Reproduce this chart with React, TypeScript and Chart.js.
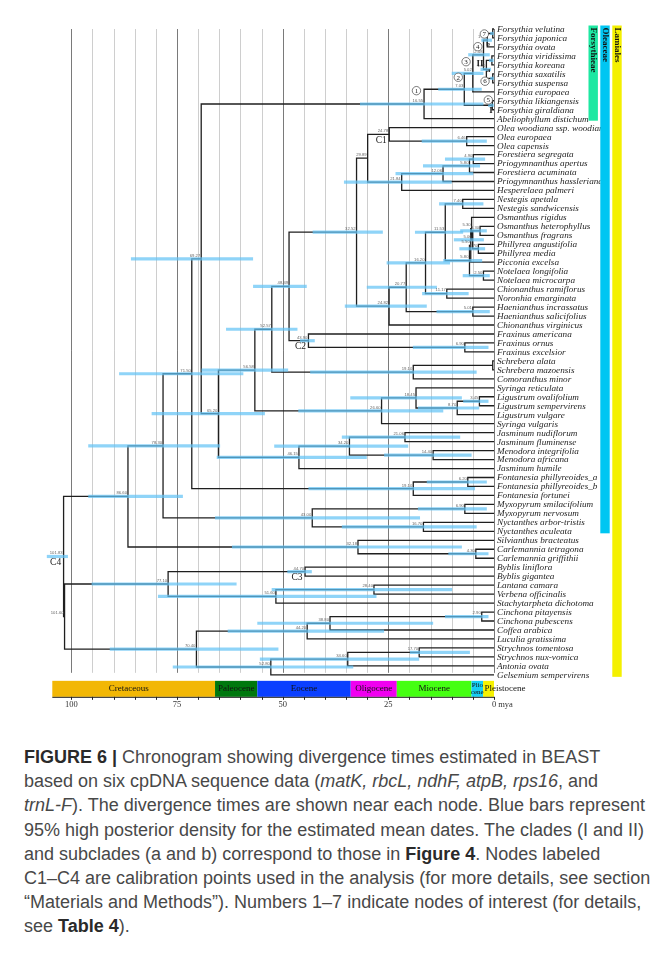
import React, { useEffect, useRef } from "react";
import { Chart, registerables } from "chart.js";
Chart.register(...registerables);

// ---------- DATA ----------
const tipNames = [
  "Forsythia velutina", "Forsythia japonica", "Forsythia ovata", "Forsythia viridissima", "Forsythia koreana",
  "Forsythia saxatilis", "Forsythia suspensa", "Forsythia europaea", "Forsythia likiangensis", "Forsythia giraldiana",
  "Abeliophyllum distichum", "Olea woodiana ssp. woodiana", "Olea europaea", "Olea capensis", "Forestiera segregata",
  "Priogymnanthus apertus", "Forestiera acuminata", "Priogymnanthus hassleriana", "Hesperelaea palmeri",
  "Nestegis apetala", "Nestegis sandwicensis", "Osmanthus rigidus", "Osmanthus heterophyllus", "Osmanthus fragrans",
  "Phillyrea angustifolia", "Phillyrea media", "Picconia excelsa", "Notelaea longifolia", "Notelaea microcarpa",
  "Chionanthus ramiflorus", "Noronhia emarginata", "Haenianthus incrassatus", "Haenianthus salicifolius",
  "Chionanthus virginicus", "Fraxinus americana", "Fraxinus ornus", "Fraxinus excelsior", "Schrebera alata",
  "Schrebera mazoensis", "Comoranthus minor", "Syringa reticulata", "Ligustrum ovalifolium", "Ligustrum sempervirens",
  "Ligustrum vulgare", "Syringa vulgaris", "Jasminum nudiflorum", "Jasminum fluminense", "Menodora integrifolia",
  "Menodora africana", "Jasminum humile", "Fontanesia phillyreoides_a", "Fontanesia phillyreoides_b",
  "Fontanesia fortunei", "Myxopyrum smilacifolium", "Myxopyrum nervosum", "Nyctanthes arbor-tristis",
  "Nyctanthes aculeata", "Silvianthus bracteatus", "Carlemannia tetragona", "Carlemannia griffithii",
  "Byblis liniflora", "Byblis gigantea", "Lantana camara", "Verbena officinalis", "Stachytarpheta dichotoma",
  "Cinchona pitayensis", "Cinchona pubescens", "Coffea arabica", "Luculia gratissima", "Strychnos tomentosa",
  "Strychnos nux-vomica", "Antonia ovata", "Gelsemium sempervirens",
];

const nodeIds = [
  "f7", "fb", "fvk", "f6", "fa", "fII", "f3", "f5", "f2", "f1",
  "oec", "c1", "fsp", "fpa", "fph", "fhe", "o29",
  "nes", "osm", "phi", "n4", "v", "w", "not", "q", "o115", "chn", "s", "hae", "t", "u", "o325",
  "fxo", "c2", "o485", "sch", "sco", "o526", "lov", "lig", "srl", "syr", "o566",
  "jnf", "men", "j342", "j461", "o652", "X", "fonab", "fon", "Y",
  "myx", "nyc", "myn", "Z", "car", "sil", "lam",
  "byb", "lv", "verb", "bv", "cin", "cc", "ccl", "str", "sa", "sag", "gen", "r2", "root",
];

const nodeKids: (number | string)[][] = [
  [0, 1], ["f7", 2], [3, 4], [5, 6], ["fvk", "f6"], ["fb", "fa"], ["fII", 7], [8, 9], ["f3", "f5"], ["f2", 10],
  [12, 13], [11, "oec"], [14, 15], ["fsp", 16], ["fpa", 17], ["fph", 18], ["c1", "fhe"],
  [19, 20], [22, 23], [24, 25], ["osm", "phi"], [21, "n4"], ["v", 26], [27, 28], ["w", "not"], ["nes", "q"],
  [29, 30], ["o115", "chn"], [31, 32], ["s", "hae"], ["t", 33], ["o29", "u"],
  [35, 36], [34, "fxo"], ["o325", "c2"], [37, 38], ["sch", 39], ["o485", "sco"], [41, 42], ["lov", 43],
  [40, "lig"], ["srl", 44], ["o526", "syr"],
  [45, 46], [47, 48], ["jnf", "men"], ["j342", 49], ["o566", "j461"], ["f1", "o652"], [50, 51], ["fonab", 52],
  ["X", "fon"],
  [53, 54], [55, 56], ["myx", "nyc"], ["Y", "myn"], [58, 59], [57, "car"], ["Z", "sil"],
  [60, 61], [62, 63], ["lv", 64], ["byb", "verb"], [65, 66], ["cin", 67], ["cc", 68], [69, 70], ["str", 71],
  ["sa", 72], ["ccl", "sag"], ["bv", "gen"], ["lam", "r2"],
];

const nodeAges = [
  0.3, 1.6, 0.5, 0.3, 1.8, 2.48, 5.02, 0.4, 7.03, 16.55,
  6.46, 24.78, 4.9, 5.8, 12.06, 21.84, 29.89,
  7.4, 3.3, 3.7, 5.06, 5.3, 5.5, 2.5, 5.8, 11.53, 11.17, 16.2, 5.01, 20.77, 24.82, 32.52,
  6.9, 43.9, 48.49, 0.3, 19.1, 52.57, 3.45, 8.7, 18.45, 26.6, 56.58,
  21.06, 14.4, 34.2, 46.15, 65.2, 69.27, 6.2, 19.1, 71.5,
  6.9, 16.7, 43.0, 78.3, 4.3, 32.18, 86.6,
  44.7, 28.4, 51.6, 77.1, 2.9, 38.8, 44.2, 17.7, 34.6, 52.8, 70.4, 101.6, 101.83,
];

const hpdLow = [
  0.9, 3.0, 1.2, 0.9, 3.2, 6.1, 10, 1.4, 13.2, 31.7,
  17.1, NaN, 11.6, 16.8, 23.3, 35.5, NaN,
  13, 8, 8.2, 9.5, NaN, NaN, 7.4, 12, 18.7, 17, 25.4, 13.6, 30.1, 35.3, 42.9,
  19.2, 45.9, 57, NaN, 43.5, 63.4, 7.3, 18, 34, 46.3, 69.2,
  36, 26, 52, 65.6, 81, 85.9, 15.9, 43.9, 88.7,
  18, 36, 66, 96, 10.8, 62, 96,
  48.9, 52.6, 79.5, 95.2, 11.6, 56, 63, 19.9, 55.4, 76, 90.9, NaN, 105.8,
];

const hpdHigh = [
  0.05, 0.5, 0.1, 0.05, 0.7, 1.0, 2.5, 0.05, 2.9, 2.5,
  1.7, NaN, 2.1, 3.3, 4.9, 10, NaN,
  2.5, 1.7, 2.1, 2.4, NaN, NaN, 1.0, 2.8, 7.3, 6, 10.4, 1.0, 13.5, 15.9, 26.3,
  1.3, 42.4, 44.3, NaN, 4.1, 46.5, 1.3, 3.5, 7.6, 12, 48.7,
  8, 5.3, 20.3, 30.1, 54.2, 57, 1.7, 4.5, 59.3,
  1.7, 4.1, 17.5, 64.8, 1.3, 7.6, 73.6,
  43.1, 9.9, 27.8, 60.9, 1.3, 14.4, 26, 5.7, 17.7, 33.3, 51, NaN, 100.8,
];

const epochNames = ["Cretaceous", "Paleocene", "Eocene", "Oligocene", "Miocene", "Plio|cene", "Pleistocene"];
const epochStart = [104.5, 66, 56, 33.9, 23, 5.33, 2.58];
const epochEnd = [66, 56, 33.9, 23, 5.33, 2.58, 0];
const axisTicks = [100, 75, 50, 25, 0];

const cladeNames = ["Forsythieae", "Oleaceae", "Lamiales"];
const cladeFirstTip = [0, 0, 0];
const cladeLastTip = [10, 56, 72];

const circledNodes = ["f1", "f2", "f3", "fII", "f5", "f6", "f7"];
const circledNums = ["1", "2", "3", "4", "5", "6", "7"];
const calibNodes = ["c1", "c2", "byb", "root"];
const calibLabels = ["C1", "C2", "C3", "C4"];
const tagNodes = ["fII", "f5", "fa", "fb"];
const tagLabels = ["II", "I", "a", "b"];

// ---------- STYLE ----------
const W = 659;
const CH = 725;
const AREA_LEFT = 52.3;
const AREA_RIGHT = 494;
const ROW0 = 29;
const ROWSTEP = 8.97;
const X_MAX = 104.5;
const Y_MIN = -0.6;
const Y_MAX = 72.6;
const epochColors = ["#f2b705", "#00780e", "#0b40ff", "#f000f0", "#45ff12", "#16cff5", "#f7f200"];
const cladeColors = ["#1ee8a2", "#00c6f2", "#f4f000"];
const cladeX = [588.5, 600.3, 612.3];
const cladeW = 9.4;
const circledOffsets = [[-7.6, -13.3], [-6, -12], [-6.7, -11.6], [-5.7, -8.1], [-4, -5.3], [-7.7, 2.9], [-8.4, 0.5]];
const tagOffsets = [[-3.4, 8.5], [-1.3, 5], [2.2, 1.3], [0.8, 4.5]];

const nodeIndex = new Map<string, number>(nodeIds.map((id, i) => [id, i]));
function yOf(ref: number | string): number {
  if (typeof ref === "number") return ref;
  const kids = nodeKids[nodeIndex.get(ref)!];
  return kids.reduce((s, k) => s + yOf(k), 0) / kids.length;
}
function ageOf(ref: number | string): number {
  return typeof ref === "number" ? 0 : nodeAges[nodeIndex.get(ref)!];
}

const chronoPlugin = {
  id: "chrono",
  beforeDatasetsDraw(chart: any) {
    const { ctx, scales } = chart;
    const x = scales.x, y = scales.y;
    ctx.save();
    const top = y.getPixelForValue(0);
    const bot = y.getPixelForValue(tipNames.length - 1) - 2;
    for (let v = 0; v <= 100; v += 5) {
      const px = Math.round(x.getPixelForValue(v)) + 0.5;
      ctx.strokeStyle = v % 25 === 0 ? "#7a7a7a" : "#cecece";
      ctx.lineWidth = 1;
      ctx.beginPath();
      ctx.moveTo(px, top);
      ctx.lineTo(px, bot);
      ctx.stroke();
    }
    ctx.restore();
  },
  afterDatasetsDraw(chart: any) {
    const { ctx, scales } = chart;
    const x = scales.x, y = scales.y;
    ctx.save();
    // species labels
    ctx.font = 'italic 9.2px "Liberation Serif", serif';
    ctx.fillStyle = "#1e1e1e";
    ctx.textBaseline = "middle";
    ctx.textAlign = "left";
    const x0 = x.getPixelForValue(0) + 3;
    tipNames.forEach((n, i) => ctx.fillText(n, x0, y.getPixelForValue(i) + 0.5));

    // node age labels
    ctx.font = '4.2px "Liberation Sans", sans-serif';
    ctx.fillStyle = "#666";
    ctx.textAlign = "right";
    ctx.textBaseline = "bottom";
    nodeIds.forEach((id, i) => {
      if (nodeAges[i] < 1) return;
      const px = x.getPixelForValue(nodeAges[i]);
      const py = y.getPixelForValue(yOf(id));
      ctx.fillText(nodeAges[i].toFixed(2), px - 1, py - 1.2);
    });

    // calibration labels
    ctx.font = '9.5px "Liberation Serif", serif';
    ctx.fillStyle = "#222";
    ctx.textAlign = "center";
    ctx.textBaseline = "middle";
    calibNodes.forEach((id, i) => {
      const k = nodeIndex.get(id)!;
      const px = x.getPixelForValue(nodeAges[k]);
      const py = y.getPixelForValue(yOf(id));
      ctx.fillText(calibLabels[i], px - 8, py + 6);
    });

    // circled numbers
    circledNodes.forEach((id, i) => {
      const k = nodeIndex.get(id)!;
      const cx = x.getPixelForValue(nodeAges[k]) + circledOffsets[i][0];
      const cy = y.getPixelForValue(yOf(id)) + circledOffsets[i][1];
      ctx.beginPath();
      ctx.arc(cx, cy, 4.2, 0, Math.PI * 2);
      ctx.fillStyle = "#fff";
      ctx.fill();
      ctx.strokeStyle = "#444";
      ctx.lineWidth = 0.7;
      ctx.stroke();
      ctx.fillStyle = "#222";
      ctx.font = '7px "Liberation Serif", serif';
      ctx.fillText(circledNums[i], cx, cy + 0.4);
    });

    // clade tags
    tagNodes.forEach((id, i) => {
      const k = nodeIndex.get(id)!;
      const px = x.getPixelForValue(nodeAges[k]) + tagOffsets[i][0];
      const py = y.getPixelForValue(yOf(id)) + tagOffsets[i][1];
      ctx.font = (tagLabels[i].length === 1 && tagLabels[i] !== "I")
        ? 'bold 6.5px "Liberation Serif", serif'
        : 'bold 9px "Liberation Serif", serif';
      ctx.fillStyle = "#222";
      ctx.fillText(tagLabels[i], px, py);
    });

    // clade bars
    cladeNames.forEach((n, i) => {
      const yt = y.getPixelForValue(cladeFirstTip[i]) - 3.5;
      const yb = y.getPixelForValue(cladeLastTip[i]) + 2;
      ctx.fillStyle = cladeColors[i];
      ctx.fillRect(cladeX[i], yt, cladeW, yb - yt);
      ctx.save();
      ctx.translate(cladeX[i] + cladeW / 2, yt + 2);
      ctx.rotate(Math.PI / 2);
      ctx.font = 'bold 9px "Liberation Serif", serif';
      ctx.fillStyle = "#111";
      ctx.textAlign = "left";
      ctx.textBaseline = "middle";
      ctx.fillText(n, 0, 0);
      ctx.restore();
    });

    // geological time bar
    const barTop = y.getPixelForValue(tipNames.length - 1) + 6;
    const barH = 16;
    epochNames.forEach((n, i) => {
      const xa = x.getPixelForValue(epochStart[i]);
      const xb = x.getPixelForValue(epochEnd[i]);
      ctx.fillStyle = epochColors[i];
      ctx.fillRect(xa, barTop, xb - xa, barH);
    });
    ctx.fillStyle = "#111";
    epochNames.forEach((n, i) => {
      const xa = x.getPixelForValue(epochStart[i]);
      const xb = x.getPixelForValue(epochEnd[i]);
      if (n.includes("|")) {
        const parts = n.split("|");
        ctx.font = '7px "Liberation Serif", serif';
        ctx.textAlign = "center";
        ctx.fillText(parts[0], (xa + xb) / 2, barTop + 4.5);
        ctx.fillText(parts[1], (xa + xb) / 2, barTop + 11);
      } else if (i === epochNames.length - 1) {
        ctx.font = '9px "Liberation Serif", serif';
        ctx.textAlign = "left";
        ctx.fillText(n, xa + 1.5, barTop + barH / 2);
      } else {
        ctx.font = '9px "Liberation Serif", serif';
        ctx.textAlign = "center";
        const cx = i === 0 ? (xa + xb) / 2 - 5 : (xa + xb) / 2;
        ctx.fillText(n, cx, barTop + barH / 2);
      }
    });
    const axY = barTop + barH;
    ctx.strokeStyle = "#222";
    ctx.lineWidth = 1;
    ctx.beginPath();
    ctx.moveTo(x.getPixelForValue(X_MAX), axY + 0.5);
    ctx.lineTo(x.getPixelForValue(0), axY + 0.5);
    ctx.stroke();
    for (let v = 0; v <= 100; v += 5) {
      const px = Math.round(x.getPixelForValue(v)) + 0.5;
      ctx.beginPath();
      ctx.moveTo(px, axY);
      ctx.lineTo(px, axY + 3);
      ctx.stroke();
    }
    ctx.font = '8.5px "Liberation Serif", serif';
    ctx.fillStyle = "#333";
    ctx.textBaseline = "middle";
    axisTicks.forEach((t) => {
      const px = x.getPixelForValue(t);
      if (t === 0) {
        ctx.textAlign = "left";
        ctx.fillText("0 mya", px - ctx.measureText("0").width / 2, axY + 8);
      } else {
        ctx.textAlign = "center";
        ctx.fillText(String(t), px, axY + 8);
      }
    });
    ctx.restore();
  },
};

function buildDatasets() {
  const tree = nodeIds.map((id, i) => {
    const [a, b] = nodeKids[i];
    const na = nodeAges[i];
    return {
      data: [
        { x: ageOf(a), y: yOf(a) },
        { x: na, y: yOf(a) },
        { x: na, y: yOf(b) },
        { x: ageOf(b), y: yOf(b) },
      ],
      showLine: true,
      borderColor: "#1f1f1f",
      borderWidth: 1.3,
      pointRadius: 0,
      borderJoinStyle: "miter",
      order: 2,
      clip: false,
    };
  });
  const bars: any[] = [];
  nodeIds.forEach((id, i) => {
    if (isNaN(hpdLow[i])) return;
    const yy = yOf(id);
    bars.push({
      data: [{ x: hpdLow[i], y: yy }, { x: hpdHigh[i], y: yy }],
      showLine: true,
      borderColor: "rgba(100,195,245,0.72)",
      borderWidth: 3.2,
      borderCapStyle: "butt",
      pointRadius: 0,
      order: 1,
      clip: false,
    });
  });
  return [...bars, ...tree];
}

export default function App() {
  const ref = useRef<HTMLCanvasElement>(null);
  useEffect(() => {
    const canvas = ref.current!;
    const chart = new Chart(canvas, {
      type: "scatter",
      data: { datasets: buildDatasets() as any },
      options: {
        animation: false,
        responsive: false,
        maintainAspectRatio: false,
        events: [],
        layout: {
          padding: {
            left: AREA_LEFT,
            right: W - AREA_RIGHT,
            top: ROW0 + Y_MIN * ROWSTEP,
            bottom: CH - (ROW0 + Y_MAX * ROWSTEP),
          },
        },
        scales: {
          x: { type: "linear", min: 0, max: X_MAX, reverse: true, display: false },
          y: { type: "linear", min: Y_MIN, max: Y_MAX, reverse: true, display: false },
        },
        plugins: { legend: { display: false }, tooltip: { enabled: false }, title: { display: false } },
      },
      plugins: [chronoPlugin],
    } as any);
    return () => chart.destroy();
  }, []);

  const lineStyle: React.CSSProperties = { whiteSpace: "nowrap" };
  const boldStyle: React.CSSProperties = { color: "#2a2a2a" };
  return (
    <div style={{ position: "absolute", left: 0, top: 0, width: W, height: 953, background: "#fff", overflow: "hidden" }}>
      <canvas ref={ref} width={W} height={CH} style={{ position: "absolute", left: 0, top: 0, width: W, height: CH }} />
      <div
        style={{
          position: "absolute",
          left: 24,
          top: 745,
          fontFamily: '"Liberation Sans", Arial, sans-serif',
          fontSize: 18,
          lineHeight: "24.2px",
          color: "#484848",
        }}
      >
        <div style={lineStyle}><b style={boldStyle}>FIGURE 6 |</b> Chronogram showing divergence times estimated in BEAST</div>
        <div style={lineStyle}>based on six cpDNA sequence data (<i>matK, rbcL, ndhF, atpB, rps16</i>, and</div>
        <div style={lineStyle}><i>trnL-F</i>). The divergence times are shown near each node. Blue bars represent</div>
        <div style={lineStyle}>95% high posterior density for the estimated mean dates. The clades (I and II)</div>
        <div style={lineStyle}>and subclades (a and b) correspond to those in <b style={boldStyle}>Figure 4</b>. Nodes labeled</div>
        <div style={lineStyle}>C1–C4 are calibration points used in the analysis (for more details, see section</div>
        <div style={lineStyle}>“Materials and Methods”). Numbers 1–7 indicate nodes of interest (for details,</div>
        <div style={lineStyle}>see <b style={boldStyle}>Table 4</b>).</div>
      </div>
    </div>
  );
}
